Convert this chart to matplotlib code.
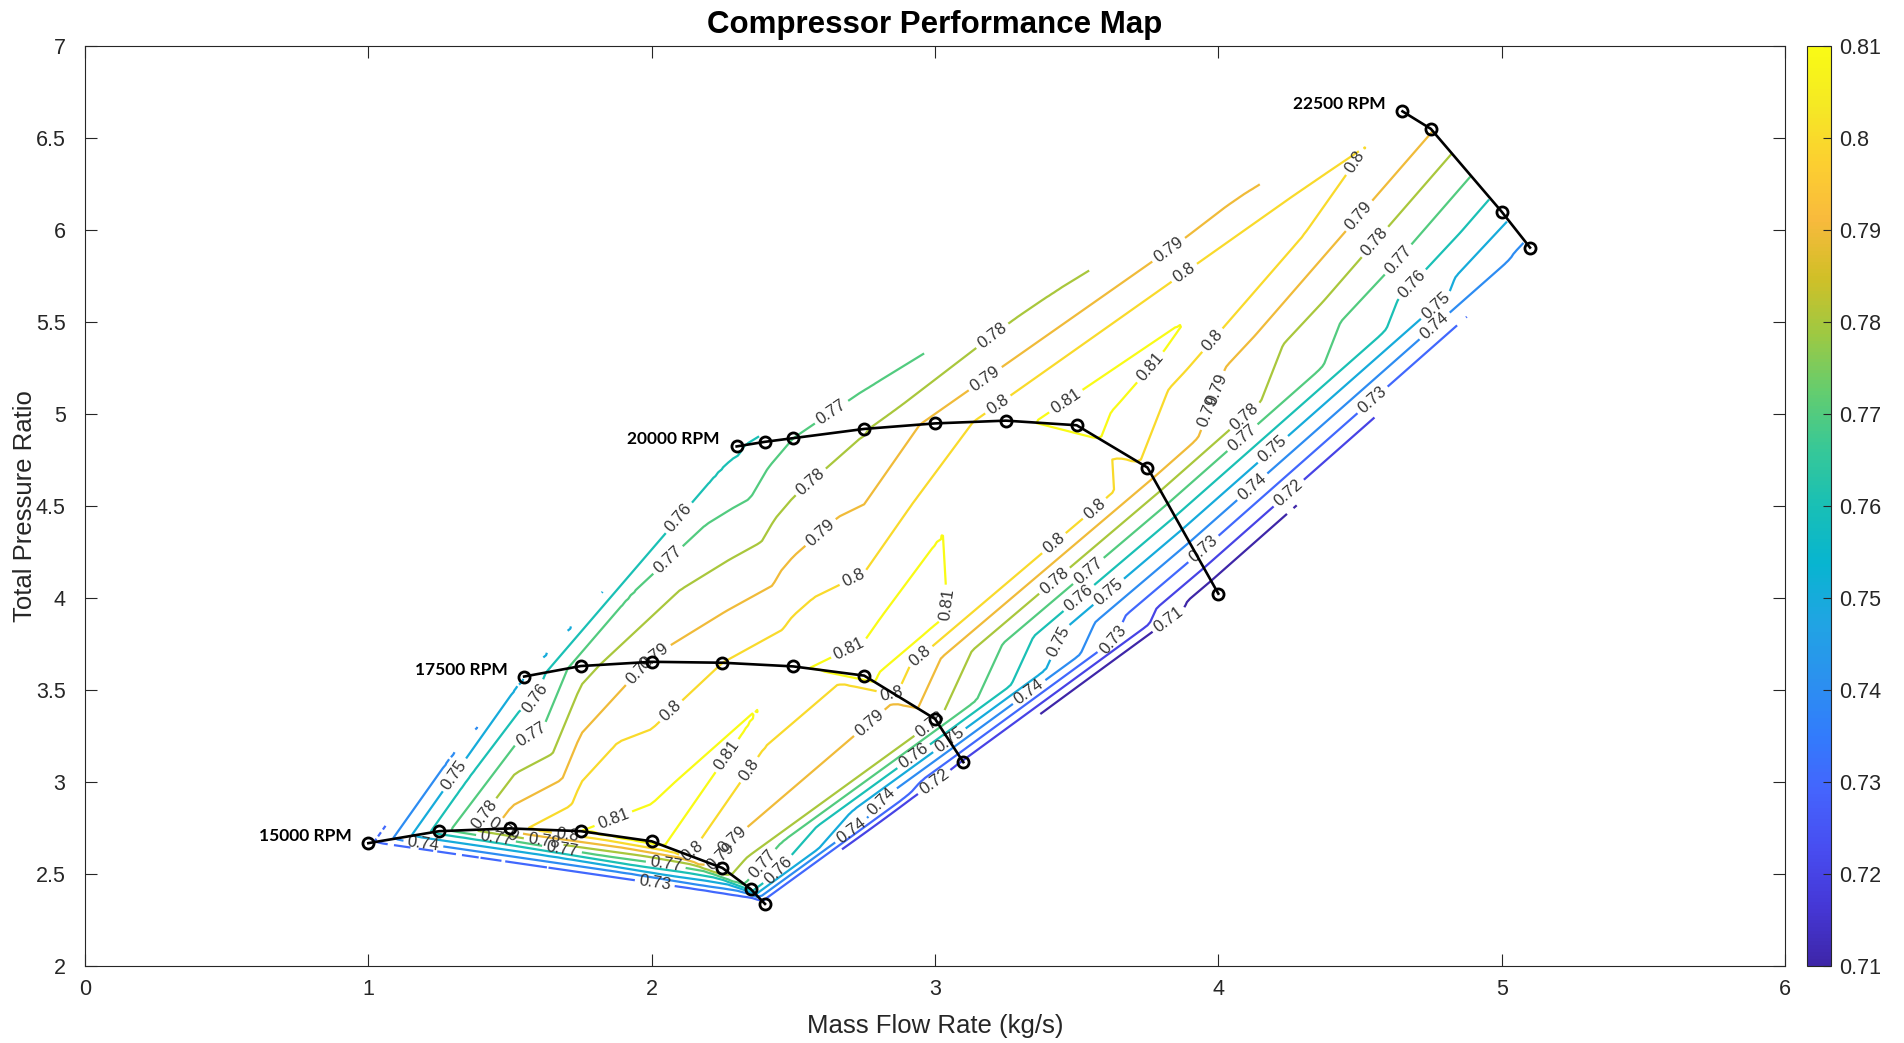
import matplotlib
matplotlib.use('Agg')
import matplotlib.pyplot as plt
import matplotlib.tri as mtri
from matplotlib.colors import LinearSegmentedColormap, Normalize
from matplotlib.cm import ScalarMappable
import numpy as np

plt.rcParams['font.family'] = ['Liberation Sans', 'DejaVu Sans']

# speed lines: mass flow (kg/s), total pressure ratio, efficiency
rpm_labels = ['15000 RPM', '17500 RPM', '20000 RPM', '22500 RPM']

mflow_15 = [1.0, 1.25, 1.5, 1.75, 2.0, 2.25, 2.35, 2.4]
pr_15 = [2.67, 2.735, 2.75, 2.735, 2.68, 2.535, 2.42, 2.34]
eff_15 = [0.727, 0.765, 0.797, 0.810, 0.815, 0.787, 0.765, 0.722]

mflow_17 = [1.55, 1.75, 2.0, 2.25, 2.5, 2.75, 3.0, 3.1]
pr_17 = [3.575, 3.632, 3.655, 3.65, 3.63, 3.58, 3.345, 3.11]
eff_17 = [0.750, 0.776, 0.791, 0.800, 0.8086, 0.815, 0.782, 0.718]

mflow_20 = [2.3, 2.4, 2.5, 2.75, 3.0, 3.25, 3.5, 3.75, 4.0]
pr_20 = [4.825, 4.85, 4.87, 4.92, 4.95, 4.965, 4.94, 4.71, 4.025]
eff_20 = [0.758, 0.765, 0.770, 0.779, 0.793, 0.806, 0.816, 0.798, 0.700]

mflow_22 = [4.65, 4.75, 5.0, 5.1]
pr_22 = [6.645, 6.55, 6.1, 5.905]
eff_22 = [0.798, 0.791, 0.754, 0.737]

speed_lines = [(mflow_15, pr_15), (mflow_17, pr_17),
               (mflow_20, pr_20), (mflow_22, pr_22)]

# parula (R2017a+ table, every 4th entry)
parula_pts = [
    (0.2422, 0.1504, 0.6603), (0.2706, 0.2147, 0.8364), (0.2813, 0.3006, 0.9414),
    (0.2699, 0.3892, 0.9906), (0.1963, 0.4847, 0.9892), (0.1687, 0.5703, 0.9359),
    (0.1248, 0.6459, 0.8883), (0.0297, 0.7082, 0.8163), (0.0964, 0.7500, 0.7120),
    (0.2161, 0.7843, 0.5923), (0.3909, 0.8029, 0.4354), (0.6174, 0.7876, 0.2612),
    (0.8203, 0.7498, 0.1535), (0.9728, 0.7298, 0.2394), (0.9892, 0.8136, 0.1885),
    (0.9597, 0.9135, 0.1423), (0.9769, 0.9839, 0.0805)]
parula = LinearSegmentedColormap.from_list('parula', parula_pts, N=256)

levels = np.round(np.arange(0.71, 0.8101, 0.01), 2)
norm = Normalize(vmin=0.71, vmax=0.81)

# scattered map points -> linear interpolation on a regular grid
mx = np.concatenate([mflow_15, mflow_17, mflow_20, mflow_22])
pr = np.concatenate([pr_15, pr_17, pr_20, pr_22])
ef = np.concatenate([eff_15, eff_17, eff_20, eff_22])
tri = mtri.Triangulation(mx, pr)
interp = mtri.LinearTriInterpolator(tri, ef)
gx, gy = np.meshgrid(np.linspace(mx.min(), mx.max(), 240),
                     np.linspace(pr.min(), pr.max(), 240))
gz = interp(gx, gy)

fig = plt.figure(figsize=(19.04, 10.43), dpi=100)
ax = fig.add_axes([0.04464, 0.07335, 0.89286, 0.88255])
cax = fig.add_axes([0.9491, 0.07335, 0.0126, 0.88255])
ax.set_xlim(0, 6)
ax.set_ylim(2, 7)

cs = ax.contour(gx, gy, gz, levels=levels, cmap=parula, norm=norm,
                linewidths=1.6)

# labels spaced along every contour piece, like MATLAB's LabelSpacing
spacing = 230.0
label_pos = []
for path in cs.get_paths():
    for seg in path.to_polygons(closed_only=False):
        if len(seg) < 2:
            continue
        pix = ax.transData.transform(seg)
        d = np.r_[0, np.cumsum(np.hypot(*np.diff(pix, axis=0).T))]
        if d[-1] < 45:
            continue
        n = max(1, int(round(d[-1] / spacing)))
        for k in range(n):
            s = (k + 0.5) * d[-1] / n
            label_pos.append((np.interp(s, d, seg[:, 0]),
                              np.interp(s, d, seg[:, 1])))
ax.clabel(cs, inline=True, fontsize=12, fmt='%g', colors='#333333',
          inline_spacing=4, manual=label_pos)

for (m, p), lab in zip(speed_lines, rpm_labels):
    ax.plot(m, p, '-o', color='black', lw=1.9, ms=8, mfc='none', mew=2.0,
            zorder=5)
    ax.annotate(lab, (m[0], p[0]), xytext=(-12, 5), textcoords='offset points',
                ha='right', va='center', fontsize=12.5, fontweight='bold',
                family=['Lato', 'DejaVu Sans'], zorder=6)

ax.set_xticks(np.arange(0, 7, 1))
ax.set_yticks(np.arange(2, 7.01, 0.5))
ax.set_yticklabels(['%g' % v for v in np.arange(2, 7.01, 0.5)])
ax.tick_params(direction='in', length=8.5, width=0.8, top=True, right=True,
               labelsize=15.5, colors='#262626')
ax.tick_params(axis='x', pad=9)
ax.tick_params(axis='y', pad=14)
for s in ax.spines.values():
    s.set_color('#262626')
    s.set_linewidth(0.8)
ax.set_xlabel('Mass Flow Rate (kg/s)', fontsize=18.5, color='#262626',
              labelpad=10)
ax.set_ylabel('Total Pressure Ratio', fontsize=18.5, color='#262626',
              labelpad=-1)
ax.set_title('Compressor Performance Map', fontsize=22.5, fontweight='bold',
             pad=9)

cb = fig.colorbar(ScalarMappable(norm=norm, cmap=parula), cax=cax,
                  ticks=levels)
cb.ax.set_yticklabels(['%g' % v for v in levels])
cb.ax.tick_params(direction='in', length=6, width=0.8, labelsize=15.5,
                  colors='#262626', pad=6)
cb.outline.set_edgecolor('#262626')
cb.outline.set_linewidth(0.8)

fig.savefig('out.png', dpi=100)
